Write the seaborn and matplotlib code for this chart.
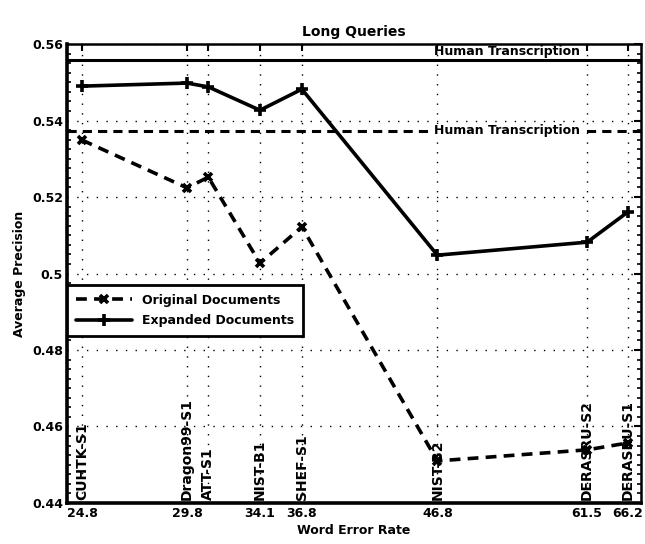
import matplotlib
matplotlib.use("Agg")
import matplotlib.pyplot as plt
import seaborn as sns
import pandas as pd
import numpy as np
from matplotlib.ticker import MultipleLocator

sns.set_theme(style="white")
plt.rcParams['font.family'] = ['DejaVu Sans']
plt.rcParams['text.color'] = 'black'
plt.rcParams['axes.labelcolor'] = 'black'
plt.rcParams['xtick.color'] = 'black'
plt.rcParams['ytick.color'] = 'black'

# systems (ordered along x)
systems = ["CUHTK-S1", "Dragon99-S1", "ATT-S1", "NIST-B1", "SHEF-S1",
           "NIST-B2", "DERASRU-S2", "DERASRU-S1"]
# apparent position on the x axis (axis units 0..100)
x_pos = [2.6, 20.9, 24.6, 33.6, 40.9, 64.5, 90.6, 97.7]
# tick labels (word error rate); ATT-S1 has no label
wer_labels = ["24.8", "29.8", "", "34.1", "36.8", "46.8", "61.5", "66.2"]

original = [0.5349, 0.5224, 0.5252, 0.5027, 0.5122, 0.4510, 0.4539, 0.4557]
expanded = [0.5490, 0.5498, 0.5488, 0.5427, 0.5482, 0.5048, 0.5082, 0.5161]

human_original = 0.5373
human_expanded = 0.5558

df = pd.DataFrame({"x": x_pos, "Original Documents": original,
                   "Expanded Documents": expanded})

fig = plt.figure(figsize=(6.45, 5.44), dpi=100)
ax = fig.add_axes([0.104, 0.0754, 0.890, 0.8436])

sns.lineplot(data=df, x="x", y="Original Documents", ax=ax, color="black",
             linewidth=2.6, linestyle=(0, (3, 2)), marker="x", markersize=6,
             markeredgewidth=2.6, markeredgecolor="black",
             label="Original Documents")
sns.lineplot(data=df, x="x", y="Expanded Documents", ax=ax, color="black",
             linewidth=2.6, linestyle="-", marker="+", markersize=8,
             markeredgewidth=2.6, markeredgecolor="black",
             label="Expanded Documents")

ax.axhline(human_expanded, color="black", linewidth=2.2, linestyle="-")
ax.axhline(human_original, color="black", linewidth=2.2, linestyle=(0, (3, 2)))
ax.text(64.0, human_expanded + 0.0005, "Human Transcription", fontsize=9,
        fontweight="bold", va="bottom", ha="left")
ax.text(64.0, human_original, "Human Transcription", fontsize=9,
        fontweight="bold", va="center", ha="left",
        bbox=dict(facecolor="white", edgecolor="none", pad=0.5))

for xp, name in zip(x_pos, systems):
    ax.text(xp, 0.4408, name, rotation=90, fontsize=10, fontweight="bold",
            ha="center", va="bottom")

ax.set_xlim(0, 100)
ax.set_ylim(0.44, 0.56)
ax.set_xticks(x_pos)
ax.set_xticklabels(wer_labels, fontsize=9, fontweight="bold")
ax.set_yticks([0.44, 0.46, 0.48, 0.50, 0.52, 0.54, 0.56])
ax.set_yticklabels(["0.44", "0.46", "0.48", "0.5", "0.52", "0.54", "0.56"],
                   fontsize=9, fontweight="bold")
ax.yaxis.set_minor_locator(MultipleLocator(0.0025))
ax.tick_params(axis="both", which="major", direction="in", length=5,
               width=1.5, top=True, right=True, pad=3, colors="black")
ax.tick_params(axis="y", which="minor", direction="in", length=3,
               width=1.2, right=True, left=True)

ax.grid(True, which="major", color="black", linestyle=(0, (1, 6)),
        linewidth=1.0)

for s in ax.spines.values():
    s.set_color("black")
    s.set_linewidth(1.8)
ax.spines["left"].set_linewidth(2.6)
ax.spines["bottom"].set_linewidth(2.6)

ax.set_title("Long Queries", fontsize=10, fontweight="bold", pad=6)
ax.set_xlabel("Word Error Rate", fontsize=9, fontweight="bold", labelpad=3)
ax.set_ylabel("Average Precision", fontsize=9, fontweight="bold", labelpad=4)

leg = ax.legend(loc="upper left", bbox_to_anchor=(0.0, 0.475),
                borderaxespad=0.0, fontsize=9, handlelength=4.5,
                frameon=True, fancybox=False, borderpad=0.7,
                labelspacing=0.6)
for t in leg.get_texts():
    t.set_fontweight("bold")
    t.set_color("black")
leg.get_frame().set_edgecolor("black")
leg.get_frame().set_linewidth(2.0)
leg.get_frame().set_alpha(1.0)

fig.savefig("out.png", dpi=100)
